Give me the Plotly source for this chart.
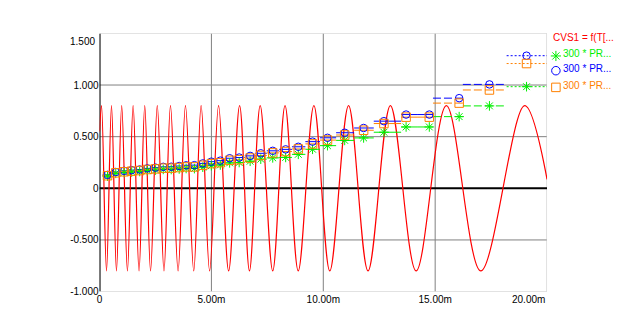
import plotly.graph_objects as go

# ---------------- data (time in ms) ----------------
# CVS1: extrema of the swept sine
red_t = [0.0, 0.089, 0.311, 0.534, 0.756, 0.99, 1.246, 1.50, 1.765, 2.02, 2.28,
         2.58, 2.88, 3.17, 3.51, 3.84, 4.21, 4.54, 4.92, 5.32, 5.77, 6.26, 6.70,
         7.18, 7.74, 8.29, 8.88, 9.58, 10.29, 11.13, 12.0, 13.0, 14.15, 15.5,
         17.04, 19.0, 20.0]
red_v = [0.55, 0.8, -0.8, 0.8, -0.8, 0.8, -0.8, 0.8, -0.8, 0.8, -0.8,
         0.8, -0.8, 0.8, -0.8, 0.8, -0.8, 0.8, -0.8, 0.8, -0.8, 0.8, -0.8,
         0.8, -0.8, 0.8, -0.8, 0.8, -0.8, 0.8, -0.8, 0.8, -0.8, 0.8,
         -0.8, 0.8, 0.087]

# measurement steps: segment edges and marker times
seg_edges = [0.133, 0.534, 0.912, 1.268, 1.615, 1.957, 2.313, 2.669, 3.025, 3.381,
             3.714, 4.048, 4.426, 4.804, 5.196, 5.605, 6.028, 6.486, 6.971, 7.473,
             8.030, 8.599, 9.199, 9.853, 10.574, 11.379, 12.255, 13.479, 14.191,
             14.902, 16.237, 18.194, 20.0]
marker_t = [0.356, 0.725, 1.099, 1.437, 1.793, 2.135, 2.504, 2.847, 3.203, 3.559,
            3.870, 4.239, 4.613, 4.996, 5.396, 5.814, 6.241, 6.730, 7.206, 7.740,
            8.318, 8.883, 9.520, 10.187, 10.957, 11.802, 12.709, 13.701, 14.738,
            16.072, 17.425, 19.084]
green_v = [0.118, 0.145, 0.153, 0.158, 0.163, 0.172, 0.177, 0.183, 0.182, 0.187,
           0.192, 0.191, 0.205, 0.219, 0.226, 0.246, 0.250, 0.262, 0.282, 0.295,
           0.299, 0.329, 0.378, 0.413, 0.464, 0.488, 0.543, 0.594, 0.594,
           0.694, 0.798, 0.984]
blue_v = [0.130, 0.158, 0.169, 0.176, 0.182, 0.193, 0.200, 0.208, 0.209, 0.216,
          0.223, 0.224, 0.241, 0.258, 0.268, 0.291, 0.298, 0.314, 0.339, 0.363,
          0.377, 0.402, 0.452, 0.489, 0.538, 0.584, 0.650, 0.714, 0.714,
          0.873, 1.006, 1.284]
orange_v = [0.122, 0.150, 0.160, 0.166, 0.172, 0.182, 0.188, 0.195, 0.195, 0.201,
            0.207, 0.207, 0.223, 0.239, 0.248, 0.271, 0.277, 0.293, 0.318, 0.343,
            0.356, 0.381, 0.430, 0.467, 0.516, 0.562, 0.627, 0.689, 0.689,
            0.825, 0.952, 1.208]

x_tick_vals = [0, 5, 10, 15, 20]
x_tick_text = ["0", "5.00m", "10.00m", "15.00m", "20.00m"]
y_tick_vals = [-1.0, -0.5, 0.0, 0.5, 1.0, 1.5]
y_tick_text = ["-1.000", "-0.500", "0", "0.500", "1.000", "1.500"]

legend_red = "CVS1 = f(T[..."
legend_steps = ["300 * PR...", "300 * PR...", "300 * PR..."]

# ---------------- styling ----------------
W, H = 642, 330
PL, PR_, PT, PB = 97, 546.6, 34, 297
FONT = "Liberation Sans, Arial, sans-serif"
RED, GREEN, BLUE, ORANGE = "#ff0000", "#00ee00", "#0000ff", "#ff8000"
GRID, BORDER = "#808080", "#c0c0c0"

fig = go.Figure()

fig.add_trace(go.Scatter(x=red_t, y=red_v, mode="lines",
                         line=dict(color=RED, width=1.2, shape="spline"),
                         hoverinfo="skip", showlegend=False))

n = len(marker_t)
groups = [(list(range(0, n - 3)), "solid"),
          (list(range(n - 3, n - 1)), "8px,3px"),
          ([n - 1], "2px,2px")]


def seg_xy(vals, idxs):
    xs, ys = [], []
    for i in idxs:
        xs += [seg_edges[i], seg_edges[i + 1], None]
        ys += [vals[i], vals[i], None]
    return xs, ys


series = [(green_v, GREEN, "asterisk-open", 8),
          (blue_v, BLUE, "circle-open", 7.5),
          (orange_v, ORANGE, "square-open", 8.5)]
for vals, col, sym, sz in series:
    for idxs, dash in groups:
        xs, ys = seg_xy(vals, idxs)
        fig.add_trace(go.Scatter(x=xs, y=ys, mode="lines",
                                 line=dict(color=col, width=1, dash=dash),
                                 hoverinfo="skip", showlegend=False))
for vals, col, sym, sz in series:
    fig.add_trace(go.Scatter(x=marker_t, y=vals, mode="markers",
                             marker=dict(symbol=sym, size=sz, color=col,
                                         line=dict(color=col, width=1)),
                             hoverinfo="skip", showlegend=False))

# legend glyphs on a pixel-space overlay axis
leg_cols = [GREEN, BLUE, ORANGE]
leg_syms = ["asterisk-open", "circle-open", "square-open"]
leg_y = [57, 72, 89]
fig.add_trace(go.Scatter(x=[555.5] * 3, y=leg_y, mode="markers", xaxis="x2", yaxis="y2",
                         marker=dict(symbol=leg_syms, size=8.5, color=leg_cols,
                                     line=dict(color=leg_cols, width=1)),
                         hoverinfo="skip", showlegend=False))

shapes = []
# gridlines (interior ticks)
for xv in x_tick_vals[1:-1]:
    shapes.append(dict(type="line", xref="x", yref="y", x0=xv, x1=xv,
                       y0=y_tick_vals[0], y1=y_tick_vals[-1],
                       line=dict(color=GRID, width=1), layer="below"))
for yv in y_tick_vals[1:-1]:
    if yv == 0:
        continue
    shapes.append(dict(type="line", xref="x", yref="y", x0=x_tick_vals[0], x1=x_tick_vals[-1],
                       y0=yv, y1=yv, line=dict(color=GRID, width=1), layer="below"))
shapes.append(dict(type="rect", xref="x", yref="y", x0=x_tick_vals[0], x1=x_tick_vals[-1],
                   y0=y_tick_vals[0], y1=y_tick_vals[-1],
                   line=dict(color=BORDER, width=1), layer="below"))
shapes.append(dict(type="line", xref="x", yref="y", x0=0, x1=x_tick_vals[-1], y0=0, y1=0,
                   line=dict(color="black", width=2), layer="below"))
shapes.append(dict(type="line", xref="x", yref="y", x0=0, x1=0,
                   y0=y_tick_vals[0], y1=y_tick_vals[-1],
                   line=dict(color="black", width=2), layer="below"))

annotations = [
    dict(x=x_tick_vals[-1], y=(H - 305) / H, xref="x", yref="paper", text=x_tick_text[-1],
         xanchor="right", yanchor="middle", showarrow=False,
         font=dict(family=FONT, size=10, color="black")),
    dict(x=(PL - 3) / W, y=y_tick_vals[-1], xref="paper", yref="y", text=y_tick_text[-1],
         xanchor="right", yanchor="top", yshift=-1, showarrow=False,
         font=dict(family=FONT, size=10, color="black")),
    dict(x=551 / W, y=(H - 38.5) / H, xref="paper", yref="paper", text=legend_red,
         xanchor="left", yanchor="middle", showarrow=False,
         font=dict(family=FONT, size=10, color=RED)),
]
for lab, col, yy in zip(legend_steps, leg_cols, [54.7, 69.7, 87]):
    annotations.append(dict(x=561 / W, y=(H - yy) / H, xref="paper", yref="paper", text=lab,
                            xanchor="left", yanchor="middle", showarrow=False,
                            font=dict(family=FONT, size=10, color=col)))

fig.update_layout(
    width=W, height=H, margin=dict(l=0, r=0, t=0, b=0),
    paper_bgcolor="white", plot_bgcolor="rgba(0,0,0,0)",
    showlegend=False, shapes=shapes, annotations=annotations,
    font=dict(family=FONT, size=10, color="black"),
    xaxis=dict(domain=[PL / W, PR_ / W], range=[x_tick_vals[0], x_tick_vals[-1]],
               tickvals=x_tick_vals[:-1], ticktext=x_tick_text[:-1],
               showgrid=False, zeroline=False, showline=False, ticks="",
               tickfont=dict(family=FONT, size=10, color="black"), fixedrange=True),
    yaxis=dict(domain=[1 - PB / H, 1 - PT / H], range=[y_tick_vals[0], y_tick_vals[-1]],
               tickvals=y_tick_vals[:-1], ticktext=y_tick_text[:-1],
               showgrid=False, zeroline=False, showline=False, ticks="",
               tickfont=dict(family=FONT, size=10, color="black"), fixedrange=True),
    xaxis2=dict(domain=[0, 1], range=[0, W], anchor="y2", visible=False, fixedrange=True),
    yaxis2=dict(domain=[0, 1], range=[H, 0], anchor="x2", visible=False, fixedrange=True),
)

fig.write_html("out.html")
